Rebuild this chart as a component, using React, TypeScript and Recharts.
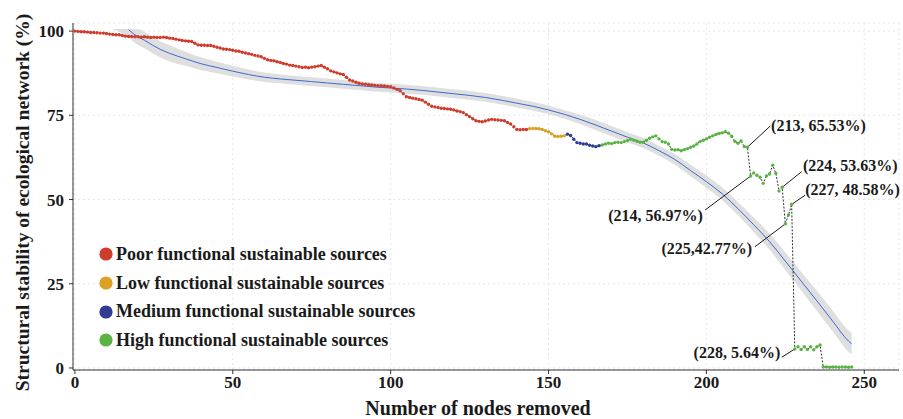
import React from 'react';
import {
  ComposedChart,
  Line,
  Area,
  XAxis,
  YAxis,
  CartesianGrid,
  ReferenceLine,
  ReferenceDot,
  Legend,
  Label,
} from 'recharts';

// ---------------- data ----------------
// stability (%) after removing n nodes, grouped by the class of the removed source
const poorValues = [
  100, 99.9, 99.8, 99.8, 99.7, 99.6, 99.6, 99.5, 99.4, 99.4, 99.3, 99.1, 99.0, 98.9, 98.9, 98.7, 98.5,
  98.4, 98.4, 98.3, 98.3, 98.2, 98.3, 98.2, 98.1, 98.2, 98.1, 98.1, 98.2, 98.1,
  97.9, 97.8, 97.6, 97.4, 97.2, 97.1, 97.0, 96.9, 96.4, 95.9, 95.8,
  95.8, 95.7, 95.7, 95.5, 95.2, 95.0, 94.7, 94.6, 94.5, 94.3, 94.1, 94.0,
  93.7, 93.5, 93.3, 93.1, 92.8, 92.6, 92.4, 91.9, 91.5, 91.3, 91.2,
  90.9, 90.7, 90.4, 90.2, 89.9, 89.8, 89.6, 89.4, 89.2, 89.3, 89.1, 89.3, 89.4, 89.6, 89.8, 89.3, 88.8, 88.2,
  87.9, 87.6, 87.3, 87.1, 86.3, 85.5, 85.2, 84.8, 84.5, 84.3, 84.2, 84.1, 84.0, 83.9, 83.8, 83.8, 83.7, 83.6, 83.5,
  83.1, 82.7, 82.3, 81.4, 80.5, 80.3, 80.1, 79.9, 79.7, 79.5, 78.9, 78.3, 77.7, 77.5, 77.3, 77.1, 77.0, 76.9, 76.8, 76.6, 76.3, 76.1,
  75.8, 75.2, 74.6, 74.0, 73.4, 73.2, 73.1, 73.3, 73.6, 73.8, 73.7, 73.6, 73.5, 73.4, 72.9, 72.4, 71.6, 70.8, 70.7, 70.8, 70.8,
];
const lowValues = [71.0, 71.1, 71.1, 71.0, 70.8, 70.4, 70.1, 69.5, 68.8, 68.7, 68.8, 68.9];
const mediumValues = [69.4, 69.0, 67.9, 66.9, 66.7, 66.5, 66.5, 66.1, 65.9, 65.7, 66.0];
const highValues = [
  66.2, 66.5, 66.7, 66.6, 66.9, 67.0, 66.9, 67.2, 67.5, 67.9, 67.6, 67.3, 67.0, 67.0, 67.6, 68.2, 68.6, 68.9,
  68.0, 67.2, 67.0, 66.5, 64.9, 64.7, 64.8, 64.5, 64.8, 65.1, 65.5, 65.9, 66.5, 67.2, 67.6, 68.0, 68.5, 68.9,
  69.3, 69.6, 69.8, 70.1, 69.7, 68.8, 67.3, 66.7, 67.4, 65.7, 65.53,
  56.97, 57.9, 57.2, 56.6, 54.8, 57.0, 57.6, 60.2, 57.8, 52.5, 53.63, 42.77, 45.4, 48.58,
  5.64, 6.3, 5.5, 6.3, 5.5, 6.3, 5.4, 6.3, 6.8,
  0.3, 0.3, 0.2, 0.3, 0.3, 0.2, 0.3, 0.3, 0.2, 0.3,
];

const classNames = ['poor', 'low', 'medium', 'high'];
const classColors = ['#d03c2b', '#dba122', '#2e3d93', '#5cb345'];
const legendLabels = [
  'Poor functional sustainable sources',
  'Low functional sustainable sources',
  'Medium functional sustainable sources',
  'High functional sustainable sources',
];

// smoothed trend (fit) with confidence band
const fitNodes = [12, 14, 17, 20, 22, 25, 27, 30, 35, 40, 45, 50, 55, 60, 65, 70, 75, 80, 85, 90, 95, 100, 105, 110, 115, 120, 125, 130, 135, 140, 145, 150, 155, 160, 165, 170, 175, 180, 185, 190, 195, 200, 205, 210, 215, 220, 225, 230, 235, 240, 245, 246];
const fitValues = [null, null, 100.4, 98.3, 97.3, 95.6, 94.6, 93.4, 91.8, 90.3, 89.2, 88.1, 87.1, 86.3, 85.8, 85.4, 85.0, 84.6, 84.2, 83.8, 83.4, 83.1, 82.8, 82.4, 81.9, 81.4, 80.9, 80.3, 79.5, 78.6, 77.7, 76.6, 75.3, 73.8, 72.1, 70.3, 68.5, 66.8, 64.5, 61.9, 58.6, 55.3, 51.7, 47.3, 42.5, 37.5, 31.7, 25.8, 19.9, 13.9, 8.0, 7.2];
const bandLow = [100.5, 99.8, 98.0, 95.9, 94.9, 93.2, 92.2, 91.0, 89.7, 88.4, 87.5, 86.5, 85.6, 84.9, 84.5, 84.1, 83.7, 83.3, 82.9, 82.5, 82.1, 81.8, 81.5, 81.1, 80.6, 80.1, 79.6, 79.0, 78.2, 77.3, 76.4, 75.3, 74.0, 72.4, 70.6, 68.8, 67.0, 65.3, 63.0, 60.3, 56.9, 53.5, 49.8, 45.3, 40.3, 35.1, 29.1, 23.0, 16.9, 10.8, 4.8, 4.0];
const bandHigh = [100.6, 100.6, 100.6, 100.6, 99.7, 98.0, 97.0, 95.8, 93.9, 92.2, 90.9, 89.7, 88.6, 87.7, 87.1, 86.7, 86.3, 85.9, 85.5, 85.1, 84.7, 84.4, 84.1, 83.7, 83.2, 82.7, 82.2, 81.6, 80.8, 79.9, 79.0, 77.9, 76.6, 75.2, 73.6, 71.8, 70.0, 68.3, 66.0, 63.5, 60.3, 57.1, 53.6, 49.3, 44.7, 39.9, 34.3, 28.6, 22.9, 17.0, 11.2, 10.4];

// annotations
const annoNodes = [213, 214, 224, 227, 225, 228];
const annoValues = [65.53, 56.97, 53.63, 48.58, 42.77, 5.64];
const annoTexts = ['(213, 65.53%)', '(214, 56.97%)', '(224, 53.63%)', '(227, 48.58%)', '(225,42.77%)', '(228, 5.64%)'];
const annoLeadNodes = [220.2, 199.6, 230.2, 231.3, 215.4, 223.9];
const annoLeadValues = [71.8, 46.9, 58.3, 51.3, 36.0, 3.2];
const annoTextNodes = [220.5, 198.9, 230.6, 231.3, 214.5, 223.4];
const annoTextValues = [72.1, 45.4, 60.2, 53.1, 35.6, 4.5];
const annoAnchors = ['start', 'end', 'start', 'start', 'end', 'end'];

const xTicks = [0, 50, 100, 150, 200, 250];
const yTicks = [0, 25, 50, 75, 100];

// ---------------- tables ----------------
const groups = [poorValues, lowValues, mediumValues, highValues];
const points: { node: number; value: number; cls: number }[] = [];
groups.forEach((vals, ci) => {
  vals.forEach((v) => points.push({ node: points.length, value: v, cls: ci }));
});

const fitData = fitNodes.map((n, i) => ({
  node: n,
  fit: fitValues[i],
  band: [bandLow[i], bandHigh[i]],
}));

const FONT = '"Liberation Serif", "Times New Roman", serif';
const textStyle = { fontFamily: FONT, fontWeight: 700, fill: '#1a1a1a' };

const renderDot = (props: any) => {
  const { cx, cy, payload, index } = props;
  if (cx == null || cy == null) return <g key={`d${index}`} />;
  return <circle key={`d${index}`} cx={cx} cy={cy} r={1.7} fill={classColors[payload.cls]} />;
};

const renderLegend = () => (
  <div style={{ fontFamily: FONT, fontWeight: 700, fontSize: 18, color: '#1a1a1a' }}>
    {legendLabels.map((label, i) => (
      <div key={classNames[i]} style={{ display: 'flex', alignItems: 'center', height: 28.7, whiteSpace: 'nowrap' }}>
        <svg width={14} height={14} style={{ marginRight: 3, flex: 'none' }}>
          <circle cx={7} cy={7} r={6.6} fill={classColors[i]} />
        </svg>
        <span>{label}</span>
      </div>
    ))}
  </div>
);

const XTitle = (props: any) => {
  const { viewBox } = props;
  const x = viewBox.x + viewBox.width / 2 - 8;
  const y = viewBox.y + 38;
  return (
    <text x={x} y={y} textAnchor="middle" dominantBaseline="central" style={{ ...textStyle, fontSize: 20 }}>
      Number of nodes removed
    </text>
  );
};

const YTitle = (props: any) => {
  const { viewBox } = props;
  const x = viewBox.x - 6;
  const y = viewBox.y + viewBox.height / 2 + 6;
  return (
    <text
      x={x}
      y={y}
      transform={`rotate(-90 ${x} ${y})`}
      textAnchor="middle"
      dominantBaseline="central"
      style={{ ...textStyle, fontSize: 19.5 }}
    >
      Structural stability of ecological network (%)
    </text>
  );
};

const makeAnnoLabel = (text: string, anchor: string) => (props: any) => {
  const { viewBox } = props;
  const x = viewBox.x + viewBox.width / 2;
  const y = viewBox.y + viewBox.height / 2;
  return (
    <text x={x} y={y} textAnchor={anchor as any} dominantBaseline="central" style={{ ...textStyle, fontSize: 16 }}>
      {text}
    </text>
  );
};

export default function App() {
  return (
    <div style={{ position: 'absolute', left: 0, top: 0, width: 903, height: 419, background: '#fff' }}>
      <ComposedChart
        width={903}
        height={419}
        data={points}
        margin={{ top: 23, right: 4, left: 28, bottom: 0 }}
      >
        <CartesianGrid stroke="#e6e6e6" strokeDasharray="2 3" />
        <XAxis
          dataKey="node"
          type="number"
          domain={[-0.6, 261]}
          ticks={xTicks}
          allowDataOverflow
          height={49}
          tickSize={4}
          tickLine={{ stroke: '#333' }}
          axisLine={{ stroke: '#333' }}
          tick={{ ...textStyle, fontSize: 17 }}
        >
          <Label content={XTitle} />
        </XAxis>
        <XAxis
          xAxisId="top"
          orientation="top"
          type="number"
          domain={[-0.6, 261]}
          height={0}
          tick={false}
          tickLine={false}
          axisLine={{ stroke: '#333' }}
        />
        <YAxis
          type="number"
          domain={[-0.6, 102.4]}
          ticks={yTicks}
          allowDataOverflow
          width={45}
          tickSize={4}
          tickMargin={5}
          tickLine={{ stroke: '#333' }}
          axisLine={{ stroke: '#333' }}
          tick={{ ...textStyle, fontSize: 17 }}
        >
          <Label content={YTitle} />
        </YAxis>
        <YAxis
          yAxisId="right"
          orientation="right"
          type="number"
          domain={[-0.6, 102.4]}
          width={0}
          tick={false}
          tickLine={false}
          axisLine={{ stroke: '#333' }}
        />
        <Area
          data={fitData}
          dataKey="band"
          type="monotone"
          stroke="none"
          fill="#d4d4d4"
          fillOpacity={0.75}
          isAnimationActive={false}
          connectNulls
        />
        <Line
          data={fitData}
          dataKey="fit"
          type="monotone"
          stroke="#3a6bd1"
          strokeWidth={1}
          dot={false}
          isAnimationActive={false}
          connectNulls={false}
        />
        <Line
          dataKey="value"
          type="linear"
          stroke="#1a1a1a"
          strokeWidth={0.9}
          strokeDasharray="2 1.5"
          dot={renderDot}
          activeDot={false}
          isAnimationActive={false}
        />
        {annoNodes.map((n, i) => (
          <ReferenceLine
            key={`l${i}`}
            segment={[
              { x: n, y: annoValues[i] },
              { x: annoLeadNodes[i], y: annoLeadValues[i] },
            ]}
            stroke="#1a1a1a"
            strokeWidth={1}
            ifOverflow="visible"
          />
        ))}
        {annoNodes.map((n, i) => (
          <ReferenceDot
            key={`t${i}`}
            x={annoTextNodes[i]}
            y={annoTextValues[i]}
            r={0}
            fill="none"
            stroke="none"
            ifOverflow="visible"
            label={makeAnnoLabel(annoTexts[i], annoAnchors[i])}
          />
        ))}
        <Legend
          layout="vertical"
          align="center"
          verticalAlign="middle"
          content={renderLegend}
          wrapperStyle={{ left: 99, top: 240, width: 360 }}
        />
      </ComposedChart>
    </div>
  );
}
